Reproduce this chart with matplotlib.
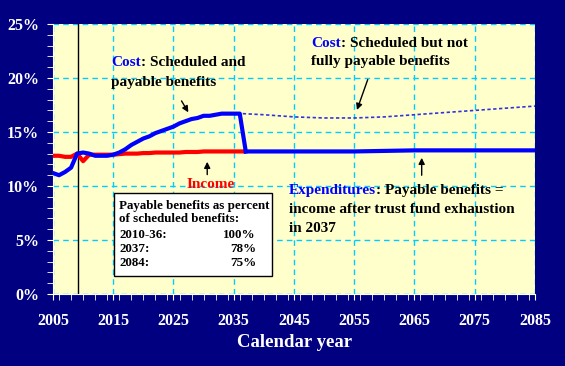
import matplotlib
matplotlib.use('Agg')
import matplotlib.pyplot as plt
from matplotlib.ticker import MultipleLocator, FuncFormatter

# data (percent of taxable payroll)
years = list(range(2005, 2038))
cost = [11.2, 11.0, 11.3, 11.7, 13.0, 13.1, 13.0, 12.8, 12.8, 12.8,
        12.9, 13.1, 13.4, 13.8, 14.1, 14.4, 14.6, 14.9, 15.1, 15.3,
        15.5, 15.8, 16.0, 16.2, 16.3, 16.5, 16.5, 16.6, 16.7, 16.7,
        16.7, 16.7, 13.2]
income = [12.8, 12.8, 12.7, 12.7, 13.0, 12.3, 12.9, 12.9, 12.9, 12.9,
          12.9, 12.95, 13.0, 13.0, 13.0, 13.05, 13.05, 13.1, 13.1, 13.1,
          13.1, 13.1, 13.15, 13.15, 13.15, 13.2, 13.2, 13.2, 13.2, 13.2,
          13.2, 13.2, 13.2]
payable_years = [2037, 2045, 2055, 2060, 2065, 2075, 2085]
payable = [13.2, 13.2, 13.2, 13.25, 13.3, 13.3, 13.3]
sched_years = [2036.5, 2040, 2045, 2050, 2055, 2060, 2065, 2070, 2075, 2080, 2085]
sched = [16.7, 16.6, 16.4, 16.3, 16.3, 16.4, 16.6, 16.8, 17.0, 17.2, 17.4]
table_rows = [("2010-36:", "100%"), ("2037:", "78%"), ("2084:", "75%")]

NAVY = '#000080'
serif = ['Liberation Serif', 'DejaVu Serif']

fig = plt.figure(figsize=(5.65, 3.66), dpi=100, facecolor=NAVY)
ax = fig.add_axes([0.0938, 0.1967, 0.853, 0.7377])
ax.set_facecolor('#FFFFCC')

ax.plot(years, income, color='#FF0000', lw=3, solid_capstyle='butt', zorder=3)
ax.plot(years, cost, color='#0000FF', lw=3, zorder=4)
ax.plot(payable_years, payable, color='#0000FF', lw=3, zorder=4)
ax.plot(sched_years, sched, color='#3333DD', lw=1.2, ls=(0, (2, 1.5)), zorder=4)
ax.axvline(2009.2, color='black', lw=1, zorder=2)

ax.set_xlim(2005, 2085)
ax.set_ylim(0, 25)
ax.xaxis.set_minor_locator(MultipleLocator(2))
ax.yaxis.set_major_locator(MultipleLocator(5))
ax.yaxis.set_minor_locator(MultipleLocator(1))
ax.set_xticks(range(2005, 2086, 10))
ax.yaxis.set_major_formatter(FuncFormatter(lambda v, p: f'{v:.0f}%'))
ax.grid(True, which='major', color='#00CCFF', ls=(0, (4, 3)), lw=1, zorder=1)

for s in ['top', 'right']:
    ax.spines[s].set_visible(False)
for s in ['left', 'bottom']:
    ax.spines[s].set_color('white')
ax.tick_params(which='both', colors='white', direction='out')
ax.tick_params(axis='y', which='both', length=4, pad=6)
ax.tick_params(axis='x', which='both', length=4, pad=10)
for lab in ax.get_xticklabels() + ax.get_yticklabels():
    lab.set_fontfamily(serif)
    lab.set_fontweight('bold')
    lab.set_fontsize(11.5)
    lab.set_color('white')

fig.text(0.522, 0.064, 'Calendar year', color='white', fontsize=13.5,
         fontweight='bold', family=serif, ha='center', va='center')

txt = dict(fontsize=11, fontweight='bold', family=serif, va='center')


def two_color(x, y, head, rest):
    t = ax.text(x, y, head, color='#0000FF', zorder=6, **txt)
    ax.annotate(rest, xy=(1, 0.5), xycoords=t, ha='left', color='black',
                zorder=6, **txt)


arrow = dict(arrowstyle='-|>', color='black', lw=1, mutation_scale=9)

two_color(2014.6, 21.4, 'Cost', ': Scheduled and')
ax.text(2014.6, 19.6, 'payable benefits', color='black', **txt)
ax.annotate('', xy=(2027.7, 16.6), xytext=(2026.1, 18.1), arrowprops=arrow)

two_color(2047.8, 23.2, 'Cost', ': Scheduled but not')
ax.text(2047.8, 21.5, 'fully payable benefits', color='black', **txt)
ax.annotate('', xy=(2055.3, 16.8), xytext=(2057.4, 20.1), arrowprops=arrow)

ax.text(2031.2, 10.1, 'Income', color='#FF0000', ha='center', **txt)
ax.annotate('', xy=(2030.6, 12.5), xytext=(2030.6, 10.8), arrowprops=arrow)

two_color(2044.2, 9.54, 'Expenditures', ': Payable benefits =')
ax.text(2044.2, 7.87, 'income after trust fund exhaustion', color='black', **txt)
ax.text(2044.2, 6.11, 'in 2037', color='black', **txt)
ax.annotate('', xy=(2066.2, 12.87), xytext=(2066.2, 10.74), arrowprops=arrow)

# box with payable-benefit percentages
box = plt.Rectangle((2015.1, 1.67), 26.2, 7.68, facecolor='white',
                    edgecolor='black', lw=1, zorder=5)
ax.add_patch(box)
btxt = dict(fontsize=9.4, fontweight='bold', family=serif, va='center',
            color='black', zorder=6)
ax.text(2016.0, 8.15, 'Payable benefits as percent', **btxt)
ax.text(2016.0, 6.94, 'of scheduled benefits:', **btxt)
for (lab, val), yy in zip(table_rows, [5.46, 4.17, 2.87]):
    ax.text(2016.0, yy, lab, **btxt)
    ax.text(2038.7, yy, val, ha='right', **btxt)

fig.savefig('out.png', dpi=100, facecolor=NAVY)
